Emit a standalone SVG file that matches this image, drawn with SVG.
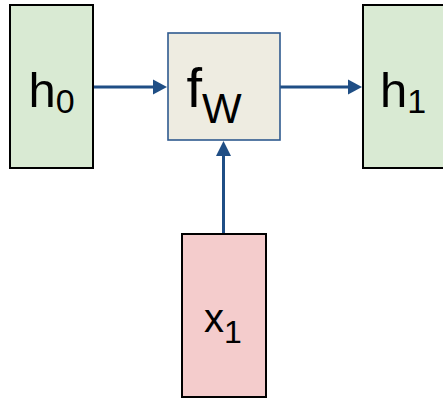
<svg xmlns="http://www.w3.org/2000/svg" width="443" height="400" viewBox="0 0 443 400">
<style>
  .state { fill: #d9ead3; stroke: #000; stroke-width: 2; }
  .input { fill: #f4cccc; stroke: #000; stroke-width: 2; }
  .fn { fill: #eeece1; stroke: #2f5a8f; stroke-width: 1.6; }
  .lbl { font-family: "Liberation Sans", Arimo, Arial, sans-serif; fill: #000; }
  .conn { stroke: #1f4e85; stroke-width: 3; fill: none; }
  .head { fill: #1f4e85; }
</style>
<rect width="443" height="400" fill="#fff"/>
<g id="connectors">
  <line class="conn" x1="93" y1="87" x2="154" y2="87"/>
  <polygon class="head" points="153,79.5 167,87 153,94.5"/>
  <line class="conn" x1="280" y1="87" x2="349" y2="87"/>
  <polygon class="head" points="348,79.5 362,87 348,94.5"/>
  <line class="conn" x1="223.5" y1="234" x2="223.5" y2="155"/>
  <polygon class="head" points="216,156 223.5,141 231,156"/>
</g>
<g id="h0">
  <rect class="state" x="10" y="5" width="83" height="163"/>
  <text class="lbl" x="28.5" y="106.7" font-size="49">h<tspan dy="6.6" font-size="34">0</tspan></text>
</g>
<g id="fW">
  <rect class="fn" x="168" y="33" width="112" height="107"/>
  <text class="lbl" x="186.5" y="106.7" font-size="56">f<tspan dy="16" font-size="42">W</tspan></text>
</g>
<g id="h1">
  <rect class="state" x="363" y="5" width="90" height="163"/>
  <text class="lbl" x="380" y="106.7" font-size="49">h<tspan dy="6.6" font-size="34">1</tspan></text>
</g>
<g id="x1">
  <rect class="input" x="182" y="234" width="84" height="163"/>
  <text class="lbl" x="204" y="331.7" font-size="40">x<tspan dy="11" font-size="32">1</tspan></text>
</g>
</svg>
